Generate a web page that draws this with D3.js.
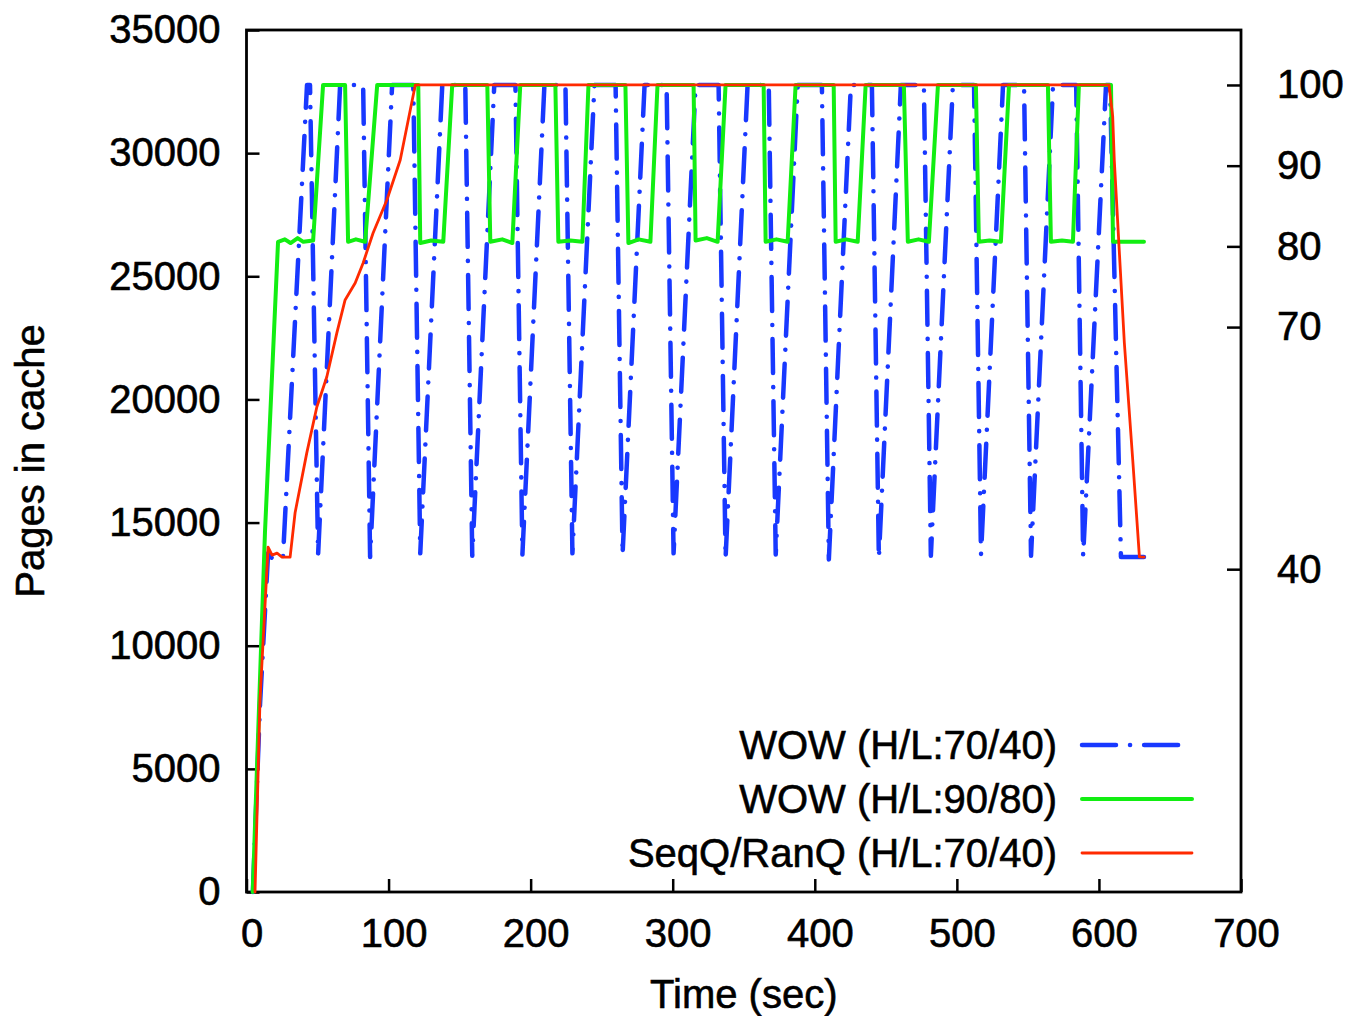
<!DOCTYPE html>
<html>
<head>
<meta charset="utf-8">
<script src="https://cdn.jsdelivr.net/npm/d3@7"></script>
<style>
  html, body { margin: 0; padding: 0; background: #ffffff; }
  svg { display: block; }
  text { font-family: "Liberation Sans", Arial, Helvetica, sans-serif; fill: #000; stroke: #000; stroke-width: 0.6px; }
</style>
</head>
<body>
<svg id="chart" width="1347" height="1016"></svg>
<script>
// Cache capacity in pages (100% on the right-hand axis)
const CACHE_PAGES = 32768;

// Tick values
const xTicks = [0, 100, 200, 300, 400, 500, 600, 700];
const yTicks = [0, 5000, 10000, 15000, 20000, 25000, 30000, 35000];
const pctTicks = [40, 70, 80, 90, 100];

// Series labels
const seriesLabels = ["WOW (H/L:70/40)", "WOW (H/L:90/80)", "SeqQ/RanQ (H/L:70/40)"];

// WOW (H/L:70/40): time (sec) and pages in cache
const blueTime = [4.5, 9.5, 15.2, 18.0, 21.5, 25.7, 42.6, 44.7, 50.4,
  65.9, 82.1, 87.0, 102.5, 117.4, 122.3, 137.8, 154.0, 158.9,
  174.4, 189.3, 194.2, 209.7, 224.5, 229.4, 244.9, 259.8, 264.7,
  280.2, 295.7, 300.6, 316.1, 332.3, 337.2, 352.7, 367.6, 372.5,
  388.0, 405.0, 409.9, 425.4, 440.2, 445.1, 460.6, 476.8, 481.7,
  497.2, 512.1, 517.0, 532.5, 547.3, 552.2, 567.7, 584.0, 588.9,
  605.0, 607.8, 615.5, 631.7];
const bluePages = [0, 7600, 13750, 13550, 13680, 13600, 32768, 32768, 13700,
  32768, 32768, 13600, 32768, 32768, 13750, 32768, 32768, 13650,
  32768, 32768, 13700, 32768, 32768, 13750, 32768, 32768, 13700,
  32768, 32768, 13750, 32768, 32768, 13550, 32768, 32768, 13700,
  32768, 32768, 13500, 32768, 32768, 13550, 32768, 32768, 13650,
  32768, 32768, 13700, 32768, 32768, 13650, 32768, 32768, 13650,
  32768, 32768, 13600, 13600];

// WOW (H/L:90/80)
const greenTime = [4.4, 13.0, 22.2, 27.0, 31.0, 36.0, 40.0, 46.9, 53.9,
  69.4, 71.5, 77.0, 83.5, 92.0, 120.9, 122.3, 130.0, 138.5, 144.8,
  169.5, 171.6, 180.0, 187.1, 192.7, 217.4, 219.5, 228.0, 236.4, 240.7,
  266.7, 268.8, 276.0, 284.3, 289.3, 314.7, 316.1, 324.0, 331.6, 337.2,
  364.0, 365.4, 373.0, 380.9, 386.5, 413.3, 414.7, 422.0, 430.2, 435.8,
  462.7, 465.5, 473.0, 480.3, 486.7, 513.4, 515.5, 523.0, 531.0, 536.7,
  564.1, 566.2, 574.0, 581.7, 585.9, 608.5, 609.9, 631.7];
const greenPages = [0, 14600, 26400, 26500, 26350, 26550, 26400, 26450, 32768,
  32768, 26400, 26500, 26400, 32768, 32768, 26350, 26450, 26400, 32768,
  32768, 26400, 26500, 26350, 32768, 32768, 26400, 26450, 26400, 32768,
  32768, 26350, 26500, 26400, 32768, 32768, 26450, 26550, 26400, 32768,
  32768, 26400, 26500, 26400, 32768, 32768, 26400, 26500, 26400, 32768,
  32768, 26400, 26500, 26400, 32768, 32768, 26400, 26450, 26400, 32768,
  32768, 26400, 26450, 26400, 32768, 32768, 26400, 26400];

// SeqQ/RanQ (H/L:70/40)
const redTime = [6.0, 9.5, 15.2, 18.0, 21.5, 25.0, 30.7, 34.2, 42.4, 49.5,
  56.5, 63.6, 69.4, 76.5, 82.1, 89.1, 98.8, 108.2, 118.8, 607.1,
  609.7, 610.8, 617.9, 623.8, 628.5, 631.8];
const redPages = [0, 7800, 14000, 13680, 13760, 13600, 13600, 15400, 17820, 19690,
  20910, 22700, 24040, 24730, 25540, 26760, 28100, 29720, 32768, 32768,
  31480, 29720, 22290, 17540, 13610, 13600];

const seriesColors = ["#1838ff", "#12ee12", "#ff2a00"];

// ---- layout ----
const svg = d3.select("#chart");
const plotLeft = 246.5, plotRight = 1241, plotTop = 30, plotBottom = 892;
const FONT = 40;

const x = d3.scaleLinear().domain([0, 700]).range([plotLeft, plotRight]);
const y = d3.scaleLinear().domain([0, 35000]).range([plotBottom, plotTop]);
const yPct = d3.scaleLinear().domain([0, 35000 / CACHE_PAGES * 100]).range([plotBottom, plotTop]);

// ---- axes (ticks point into the plot) ----
function styleAxis(g) {
  g.select(".domain").remove();
  g.selectAll(".tick line").attr("stroke", "#000").attr("stroke-width", 2.5);
  g.selectAll(".tick text").attr("font-size", FONT).attr("fill", "#000")
    .style("font-family", '"Liberation Sans", Arial, sans-serif');
}

svg.append("g")
  .attr("transform", `translate(${plotLeft},0)`)
  .call(d3.axisLeft(y).tickValues(yTicks).tickFormat(d3.format("d"))
    .tickSize(-13).tickPadding(26))
  .call(styleAxis);

svg.append("g")
  .attr("transform", `translate(0,${plotBottom})`)
  .call(d3.axisBottom(x).tickValues(xTicks).tickFormat(d3.format("d"))
    .tickSize(-13).tickPadding(27))
  .call(styleAxis)
  .call(g => g.selectAll(".tick text").attr("dx", 5));

svg.append("g")
  .attr("transform", `translate(${plotRight},0)`)
  .call(d3.axisRight(yPct).tickValues(pctTicks).tickFormat(d3.format("d"))
    .tickSize(-14).tickPadding(36))
  .call(styleAxis);

// frame
svg.append("rect")
  .attr("x", plotLeft).attr("y", plotTop)
  .attr("width", plotRight - plotLeft).attr("height", plotBottom - plotTop)
  .attr("fill", "none").attr("stroke", "#000").attr("stroke-width", 2.8);

// ---- series ----
const line = d3.line().x(d => x(d[0])).y(d => y(d[1]));
const series = [
  { data: d3.zip(blueTime, bluePages), color: seriesColors[0], width: 4.5, dash: "34,14,0.1,14" },
  { data: d3.zip(greenTime, greenPages), color: seriesColors[1], width: 4, dash: null },
  { data: d3.zip(redTime, redPages), color: seriesColors[2], width: 2.8, dash: null }
];

const plot = svg.append("g");
series.forEach(s => {
  plot.append("path")
    .datum(s.data)
    .attr("d", line)
    .attr("fill", "none")
    .attr("stroke", s.color)
    .attr("stroke-width", s.width)
    .attr("stroke-linejoin", "round")
    .attr("stroke-linecap", "round")
    .attr("stroke-dasharray", s.dash);
});

// ---- legend ----
const legendY = [745, 799, 853];
const legend = svg.append("g");
series.forEach((s, i) => {
  legend.append("text")
    .attr("x", 1057).attr("y", legendY[i]).attr("dy", "0.36em")
    .attr("text-anchor", "end").attr("font-size", FONT)
    .text(seriesLabels[i]);
  legend.append("line")
    .attr("x1", 1082).attr("x2", 1192)
    .attr("y1", legendY[i]).attr("y2", legendY[i])
    .attr("stroke", s.color).attr("stroke-width", s.width)
    .attr("stroke-linecap", "round")
    .attr("stroke-dasharray", s.dash);
});

// ---- titles ----
svg.append("text")
  .attr("x", (plotLeft + plotRight) / 2).attr("y", 1008)
  .attr("text-anchor", "middle").attr("font-size", FONT)
  .text("Time (sec)");

svg.append("text")
  .attr("transform", `translate(44,${(plotTop + plotBottom) / 2}) rotate(-90)`)
  .attr("text-anchor", "middle").attr("font-size", FONT)
  .text("Pages in cache");
</script>
</body>
</html>
